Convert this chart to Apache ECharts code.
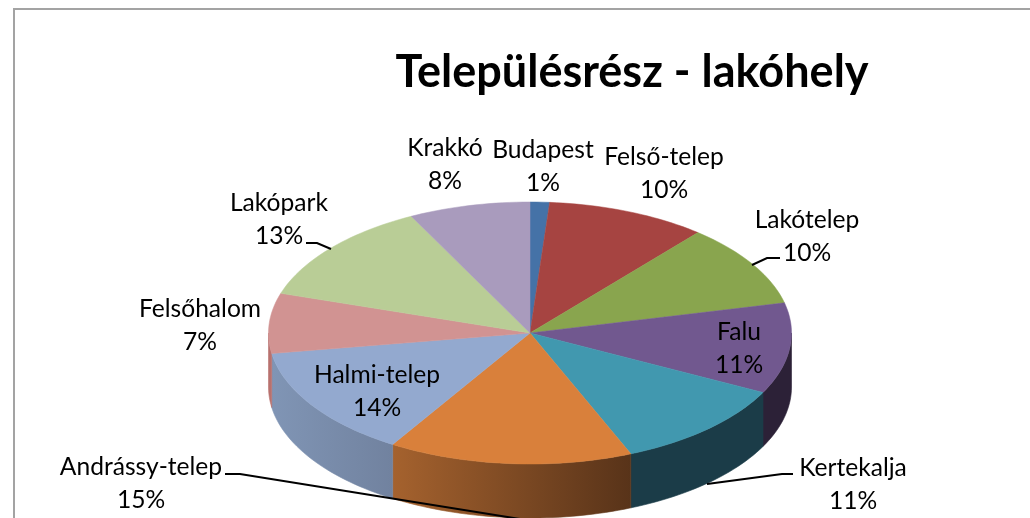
<!DOCTYPE html>
<html>
<head>
<meta charset="utf-8">
<title>Településrész - lakóhely</title>
<style>
  html, body { margin: 0; padding: 0; background: #fff; }
  #chart { width: 1030px; height: 518px; }
</style>
<script src="https://cdn.jsdelivr.net/npm/echarts@6/dist/echarts.min.js"></script>
</head>
<body>
<div id="chart"></div>
<script>
// share of the whole pie in %
const categories = ['Budapest', 'Felső-telep', 'Lakótelep', 'Falu', 'Kertekalja',
  'Andrássy-telep', 'Halmi-telep', 'Felsőhalom', 'Lakópark', 'Krakkó'];
const shares = [1.2, 9.9, 10.2, 11.2, 11.2, 15.1, 13.7, 7.4, 12.6, 7.5];

const topColors = ['#4572a7', '#a64441', '#89a54e', '#71588f', '#4198af',
  '#d9803b', '#93a9cf', '#d19392', '#b9cd96', '#a99bbd'];
const wallColors = [null, null, null, ['#2c2137', '#2c2137'], ['#1b3c48', '#1b3c48'],
  ['#a5622e', '#583319'], ['#8095b5', '#71829f'], ['#b8716e', '#b8716e'], null, null];

// layout of the tilted pie
const cx = 530, cy = 333, rx = 261.5, ry = 131, depth = 54;
const font = 'Lato, "Noto Sans", sans-serif';

// centre of the two line label, per category
const labelPos = [[543, 167], [664, 174], [807, 237], [739, 349], [853, 485],
  [141, 484], [377, 392], [200, 326], [279, 220], [445, 165]];
const leaderLines = [
  [[306, 243], [317, 243], [331, 249]],
  [[780, 258], [767, 258], [752, 265]],
  [[793, 474], [782, 474], [707, 484]],
  [[225, 474], [240, 474], [520, 519]]
];

const total = shares.reduce((a, b) => a + b, 0);
const startAngles = [];
shares.reduce((sum, v, i) => {
  startAngles[i] = sum / total * 360;
  return sum + v;
}, 0);

function rimPoint(deg, dy) {
  const t = deg * Math.PI / 180;
  return [cx + rx * Math.sin(t), cy - ry * Math.cos(t) + (dy || 0)];
}

function arc(from, to, dy) {
  const pts = [];
  const n = Math.max(2, Math.ceil((to - from) / 1.5));
  for (let i = 0; i <= n; i++) {
    pts.push(rimPoint(from + (to - from) * i / n, dy));
  }
  return pts;
}

function renderWall(params) {
  const i = params.dataIndex;
  const a = startAngles[i], b = a + shares[i] / total * 360;
  // only the front half of the rim can be seen
  const from = Math.max(a, 90), to = Math.min(b, 270);
  if (from >= to) return null;
  const pts = arc(from, to, 0).concat(arc(from, to, depth).reverse());
  const c = wallColors[i];
  const fill = new echarts.graphic.LinearGradient(0, 0, 1, 0, [
    { offset: 0, color: c[0] },
    { offset: 1, color: c[1] }
  ]);
  return {
    type: 'polygon',
    shape: { points: pts },
    style: { fill: fill, stroke: fill, lineWidth: 0.6 }
  };
}

function renderTop(params) {
  const i = params.dataIndex;
  const a = startAngles[i], b = a + shares[i] / total * 360;
  return {
    type: 'polygon',
    shape: { points: [[cx, cy]].concat(arc(a, b, 0)) },
    style: { fill: topColors[i], stroke: topColors[i], lineWidth: 0.5 }
  };
}

function renderLabel(params) {
  const i = params.dataIndex;
  return {
    type: 'text',
    x: labelPos[i][0],
    y: labelPos[i][1],
    style: {
      text: categories[i] + '\n' + Math.round(shares[i]) + '%',
      fontFamily: font,
      fontSize: 24.6,
      lineHeight: 33,
      fill: '#000',
      align: 'center',
      verticalAlign: 'middle'
    }
  };
}

function renderLeader(params) {
  return {
    type: 'polyline',
    shape: { points: leaderLines[params.dataIndex] },
    style: { stroke: '#000', lineWidth: 2, fill: null }
  };
}

const chart = echarts.init(document.getElementById('chart'), null, { renderer: 'canvas' });
chart.setOption({
  animation: false,
  backgroundColor: '#fff',
  title: {
    text: 'Településrész - lakóhely',
    left: 627,
    top: 45,
    textAlign: 'center',
    textStyle: { fontFamily: font, fontSize: 45, fontWeight: 'bold', color: '#000' }
  },
  graphic: [{
    type: 'rect',
    silent: true,
    shape: { x: 14, y: 9, width: 1100, height: 600 },
    style: { fill: null, stroke: '#a3a3a3', lineWidth: 2 }
  }],
  series: [
    { type: 'custom', coordinateSystem: 'none', z: 2, renderItem: renderWall, data: shares },
    { type: 'custom', coordinateSystem: 'none', z: 3, renderItem: renderTop, data: shares },
    { type: 'custom', coordinateSystem: 'none', z: 4, renderItem: renderLeader, data: leaderLines.map((l, i) => i) },
    { type: 'custom', coordinateSystem: 'none', z: 5, renderItem: renderLabel, data: shares }
  ]
});
</script>
</body>
</html>
